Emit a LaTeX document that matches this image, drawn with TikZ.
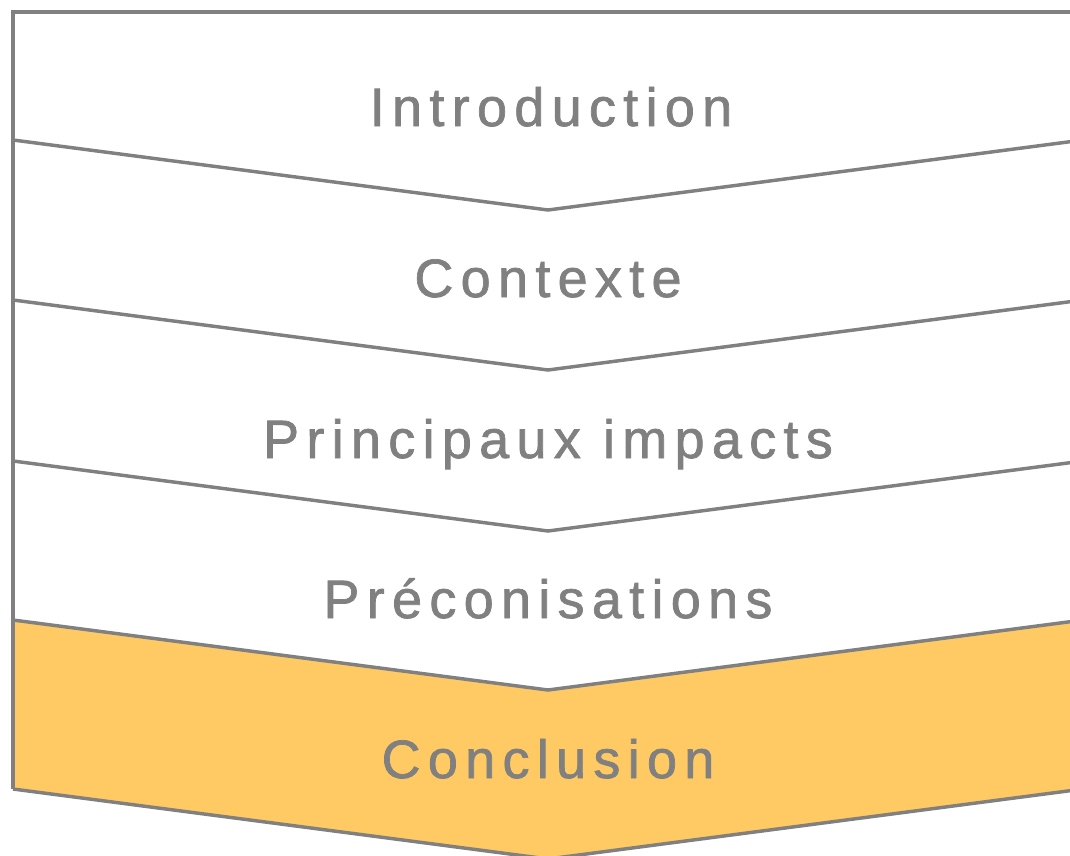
\documentclass[tikz,border=0pt]{standalone}
\usepackage{fontspec}
\setmainfont{Liberation Sans}[LetterSpace=13.5,FakeBold=1.3]
\definecolor{linegray}{HTML}{808080}
\definecolor{gold}{HTML}{FFCA64}
\begin{document}
\begin{tikzpicture}[x=0.75pt,y=-0.75pt,
  outline/.style={draw=linegray,line width=2.6pt,line join=miter},
  label/.style={anchor=base,text=linegray,inner sep=0pt,font=\fontsize{40.5}{48}\selectfont}]
\useasboundingbox (0,0) rectangle (1070,856);
\clip (0,0) rectangle (1070,856);
% fill of last chevron
\fill[gold] (13,620) -- (548,690) -- (1083,620) -- (1083,789) -- (548,859) -- (13,789) -- cycle;
% top edge and left edge
\draw[outline] (1083,12) -- (13,12) -- (13,789);
% chevron bottoms
\foreach \y in {140,300,461,620,789}
  \draw[outline] (13,\y) -- (548,\y+70) -- (1083,\y);
\node[label] (intro) at (551,126) {Introduction};
\node[label] (ctx) at (548,297) {Contexte};
\node[label] (imp) at (548,458) {Principaux impacts};
\node[label] (prec) at (548,618) {Préconisations};
\node[label] (concl) at (548,778) {Conclusion};
\end{tikzpicture}
\end{document}
